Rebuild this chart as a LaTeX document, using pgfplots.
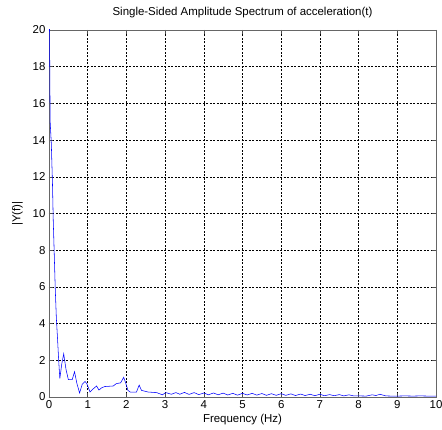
\documentclass[border=0pt]{standalone}
\usepackage{pgfplots}
\pgfplotsset{compat=1.18}
\usepackage{fontspec}
\setmainfont{Liberation Sans}
\begin{document}
\begin{tikzpicture}
\begin{axis}[
  scale only axis,
  width=387bp, height=367bp,
  xmin=0, xmax=10, ymin=0, ymax=20,
  xtick={0,1,...,10}, ytick={0,2,...,20},
  tick align=inside,
  major tick length=4bp,
  grid=major,
  major grid style={black, line width=0.45pt, dash pattern=on 2bp off 1.5bp},
  axis line style={black!60, line width=0.8pt},
  every tick/.style={black!70, line width=0.5pt},
  font=\fontsize{11.5}{13.5}\selectfont,
  tick label style={font=\fontsize{11.5}{13.5}\selectfont},
  /pgf/number format/assume math mode=true,
  title={Single-Sided Amplitude Spectrum of acceleration(t)},
  title style={yshift=3bp},
  xlabel={Frequency (Hz)},
  ylabel={|Y(f)|},
  xlabel style={yshift=1bp},
  ylabel style={yshift=3bp},
  clip=true,
]
\addplot[blue, line width=0.55pt] coordinates {
(0,24) (0.03,15) (0.06,13.8) (0.09,11.6) (0.11,9.6) (0.13,8.2) (0.16,6.0) (0.19,4.3) (0.22,3.2) (0.25,2.0) (0.28,1.0) (0.33,1.8) (0.38,2.35) (0.44,1.5) (0.5,0.95) (0.6,0.95) (0.66,1.38) (0.72,0.75) (0.79,0.22) (0.86,0.7) (0.93,0.85) (0.98,0.72) (1.06,0.27) (1.15,0.46) (1.23,0.6) (1.29,0.38) (1.36,0.5) (1.44,0.57) (1.66,0.6) (1.74,0.73) (1.85,0.77) (1.93,1.07) (1.98,0.78) (2.04,0.36) (2.1,0.27) (2.26,0.27) (2.33,0.65) (2.39,0.36) (2.56,0.27) (2.78,0.24) (2.93,0.12)
(3.02,0.24) (3.16,0.15) (3.28,0.24) (3.38,0.15) (3.5,0.25) (3.62,0.14) (3.75,0.24) (3.87,0.13) (4.0,0.22) (4.12,0.12) (4.25,0.22) (4.37,0.12) (4.5,0.21) (4.62,0.11) (4.75,0.2) (4.87,0.1) (5.0,0.2) (5.12,0.11) (5.25,0.2) (5.37,0.1) (5.5,0.19) (5.62,0.09) (5.75,0.18) (5.87,0.09) (6.0,0.18) (6.12,0.09) (6.25,0.17) (6.37,0.08) (6.5,0.16) (6.62,0.08) (6.75,0.15) (6.87,0.07) (7.0,0.15) (7.12,0.07) (7.25,0.13) (7.37,0.07) (7.5,0.13) (7.62,0.06) (7.75,0.12) (7.87,0.06) (8.0,0.06) (8.2,0.05) (8.35,0.12) (8.45,0.08) (8.55,0.15) (8.7,0.06) (8.85,0.05) (9.0,0.05) (9.2,0.06) (9.4,0.05) (9.6,0.06) (9.8,0.05) (10,0.05)
};
\end{axis}
\pgfresetboundingbox
\path[use as bounding box] (current axis.south west) ++(-49bp,-33bp) rectangle ([shift={(6bp,30bp)}]current axis.north east);
\end{tikzpicture}
\end{document}
